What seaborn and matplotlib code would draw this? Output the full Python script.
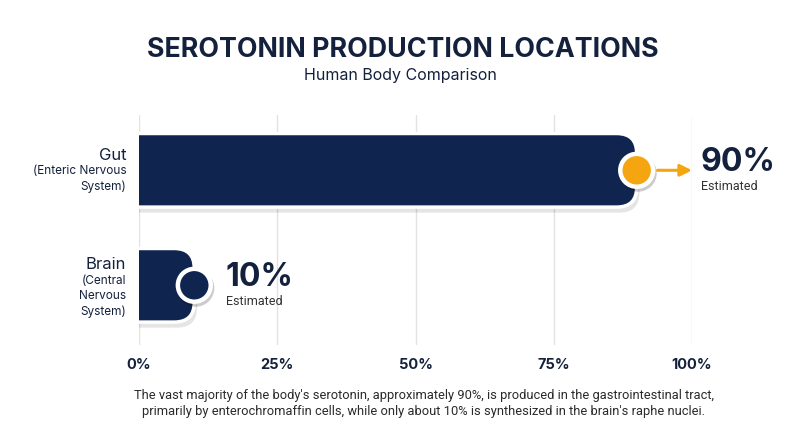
import pandas as pd
import numpy as np
import seaborn as sns
import matplotlib.pyplot as plt
from matplotlib.patches import FancyBboxPatch
import matplotlib.patheffects as pe

# ===================== DATA =====================
locations = ["Gut", "Brain"]
systems = ["(Enteric Nervous\nSystem)", "(Central\nNervous\nSystem)"]
share = [90, 10]
value_labels = ["90%", "10%"]
sub_labels = ["Estimated", "Estimated"]
x_ticks = [0, 25, 50, 75, 100]
x_ticklabels = ["0%", "25%", "50%", "75%", "100%"]

title = "SEROTONIN PRODUCTION LOCATIONS"
subtitle = "Human Body Comparison"
footnote = ("The vast majority of the body's serotonin, approximately 90%, is produced in the gastrointestinal tract,\n"
            "primarily by enterochromaffin cells, while only about 10% is synthesized in the brain's raphe nuclei.")

NAVY = "#0f2550"
DARK = "#14213d"
ORANGE = "#f5a50f"
GRID = "#e2e2e2"

df = pd.DataFrame({"Location": locations, "Share": share})

sns.set_style("white")
plt.rcParams["font.family"] = ["Inter", "DejaVu Sans"]

fig = plt.figure(figsize=(8, 4.47), dpi=100)
ax = fig.add_axes([0.17375, 0.228, 0.69125, 0.5145])

sns.barplot(data=df, x="Share", y="Location", orient="h", color=NAVY,
            width=0.64, saturation=1, ax=ax, zorder=3)

ax.set_xlim(0, 100)
ax.set_ylim(1.52, -0.48)

# ===================== ROUNDED BARS =====================
r = 20 * 100 / 553          # corner radius in x units (~20 px)
asp = (1 / 115) / (100 / 553)
shadow = [pe.SimplePatchShadow(offset=(2, -4), shadow_rgbFace="#000000", alpha=0.1),
          pe.Normal()]
for p in list(ax.patches):
    x0, y0, w, h = p.get_x(), p.get_y(), p.get_width(), p.get_height()
    p.set_visible(False)
    box = FancyBboxPatch((x0 - 2 * r, y0), w + 2 * r, h,
                         boxstyle=f"round,pad=0,rounding_size={r}",
                         mutation_aspect=asp, facecolor=NAVY,
                         edgecolor="white", linewidth=2.5, zorder=3)
    box.set_path_effects(shadow)
    ax.add_patch(box)

# ===================== MARKERS / LABELS =====================
top = max(share)
for i, (v, lab, sub) in enumerate(zip(share, value_labels, sub_labels)):
    col = ORANGE if v == top else NAVY
    sc = ax.scatter([v], [i], s=560, color=col, edgecolor="white",
                    linewidth=3.2, zorder=5, clip_on=False)
    sc.set_path_effects([pe.SimpleLineShadow(offset=(1, -2), alpha=0.2), pe.Normal()])
    if v == top:
        ax.annotate("", xy=(100, i), xytext=(v + 3.8, i),
                    arrowprops=dict(arrowstyle="-|>,head_length=0.7,head_width=0.35",
                                    color=ORANGE, lw=2.2, shrinkA=0, shrinkB=0),
                    zorder=4, annotation_clip=False)
        lx, dx = 100, 8
    else:
        lx, dx = v, 31
    ax.annotate(lab, xy=(lx, i), xytext=(dx, 8), textcoords="offset pixels",
                ha="left", va="center", fontsize=23, fontweight="bold",
                color=DARK, annotation_clip=False)
    ax.annotate(sub, xy=(lx, i), xytext=(dx + 1, -16), textcoords="offset pixels",
                ha="left", va="center", fontsize=9, color="#333333",
                family=["Roboto", "DejaVu Sans"], annotation_clip=False)

# ===================== Y LABELS =====================
ytr = ax.get_yaxis_transform()
for i, (name, sysname) in enumerate(zip(locations, systems)):
    n = sysname.count("\n") + 1
    ax.annotate(name, xy=(-0.023, i), xycoords=ytr, xytext=(0, 4 + 5.5 * n),
                textcoords="offset pixels", ha="right", va="center",
                fontsize=12, color=DARK)
    ax.annotate(sysname, xy=(-0.023, i), xycoords=ytr, xytext=(0, -6 + 5.5 * n),
                textcoords="offset pixels", ha="right", va="top",
                fontsize=8.5, color=DARK, linespacing=1.35)

ax.set_yticks([])
ax.set_ylabel("")
ax.set_xlabel("")
ax.set_xticks(x_ticks)
ax.set_xticklabels(x_ticklabels, fontsize=10.5, fontweight="bold", color=DARK)
ax.tick_params(axis="x", length=0, pad=9)
ax.grid(axis="x", color=GRID, linewidth=1, zorder=0)
ax.grid(axis="y", visible=False)
sns.despine(ax=ax, left=True, bottom=True)

# ===================== TITLES =====================
fig.text(0.503, 0.888, title, ha="center", va="center", fontsize=19.3,
         fontweight="bold", color=DARK)
fig.text(0.5, 0.832, subtitle, ha="center", va="center", fontsize=11.5, color=DARK)
fig.text(0.53, 0.098, footnote, ha="center", va="center", fontsize=9.3,
         color="#2a2a2a", family=["Roboto", "DejaVu Sans"], linespacing=1.3)

fig.savefig("out.png", dpi=100, facecolor="white")
